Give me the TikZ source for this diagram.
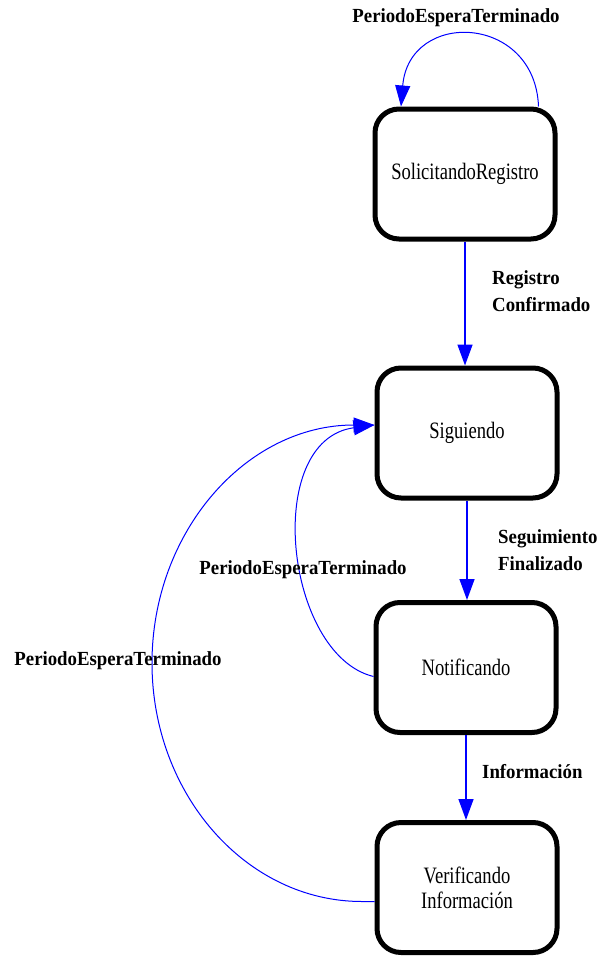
\documentclass[tikz,border=0pt]{standalone}
\usepackage{fontspec}
\usetikzlibrary{arrows.meta}
\newfontfamily\labfont[FakeStretch=0.94]{Liberation Serif}
\newfontfamily\boxfont[FakeStretch=0.79]{Liberation Serif}
\definecolor{edgeblue}{RGB}{0,0,255}
\tikzset{
  state/.style={draw=black, line width=5pt, rounded corners=24pt, minimum width=180pt, minimum height=130pt, inner sep=0pt, align=center, font=\boxfont\fontsize{23.5}{25}\selectfont},
  lab/.style={font=\labfont\bfseries\fontsize{20}{27}\selectfont, inner sep=0pt, align=left},
  trans/.style={draw=edgeblue, line width=1.5pt, -{Triangle[length=21pt,width=15pt]}},
  loopedge/.style={draw=edgeblue, line width=1pt, -{Triangle[length=21pt,width=15pt]}}
}
\begin{document}
\begin{tikzpicture}[x=1pt,y=-1pt]
\useasboundingbox (0,0) rectangle (604,958);
\node[state] (sr) at (465,174) {SolicitandoRegistro};
\node[state] (sg) at (467,433) {Siguiendo};
\node[state] (nt) at (466,667.5) {Notificando};
\node[state] (vf) at (467,887.5) {Verificando\\Información};

\draw[trans] (sr.south) -- (sr.south |- sg.north);
\draw[trans] (sg.south) -- (sg.south |- nt.north);
\draw[trans] (nt.south) -- (nt.south |- vf.north);

\node[lab, anchor=west] (l1) at (492,291) {Registro\\Confirmado};
\node[lab, anchor=west] (l2) at (498,550) {Seguimiento\\Finalizado};
\node[lab, anchor=west] (l3) at (482,772) {Información};

% self loop
\draw[loopedge] ([xshift=-19pt]sr.north east) .. controls (535,14) and (409,9) .. ([xshift=28.5pt]sr.north west);
\node[lab] (l4) at (456,18) {PeriodoEsperaTerminado};

% inner arc
\draw[loopedge] ([yshift=-9pt]nt.west) .. controls (285,655) and (262,440) .. ([yshift=8pt]sg.west);
\node[lab] (l5) at (303,570) {PeriodoEsperaTerminado};

% outer arc
\coordinate (far) at (152,663);
\draw[loopedge] ([yshift=-14pt]vf.west) -- (362,901.5) .. controls (246,901.5) and (152,794) .. (far) .. controls (152,532) and (246,425) .. ([yshift=8pt]sg.west);
\node[lab] (l6) at (118,661) {PeriodoEsperaTerminado};
\end{tikzpicture}
\end{document}
